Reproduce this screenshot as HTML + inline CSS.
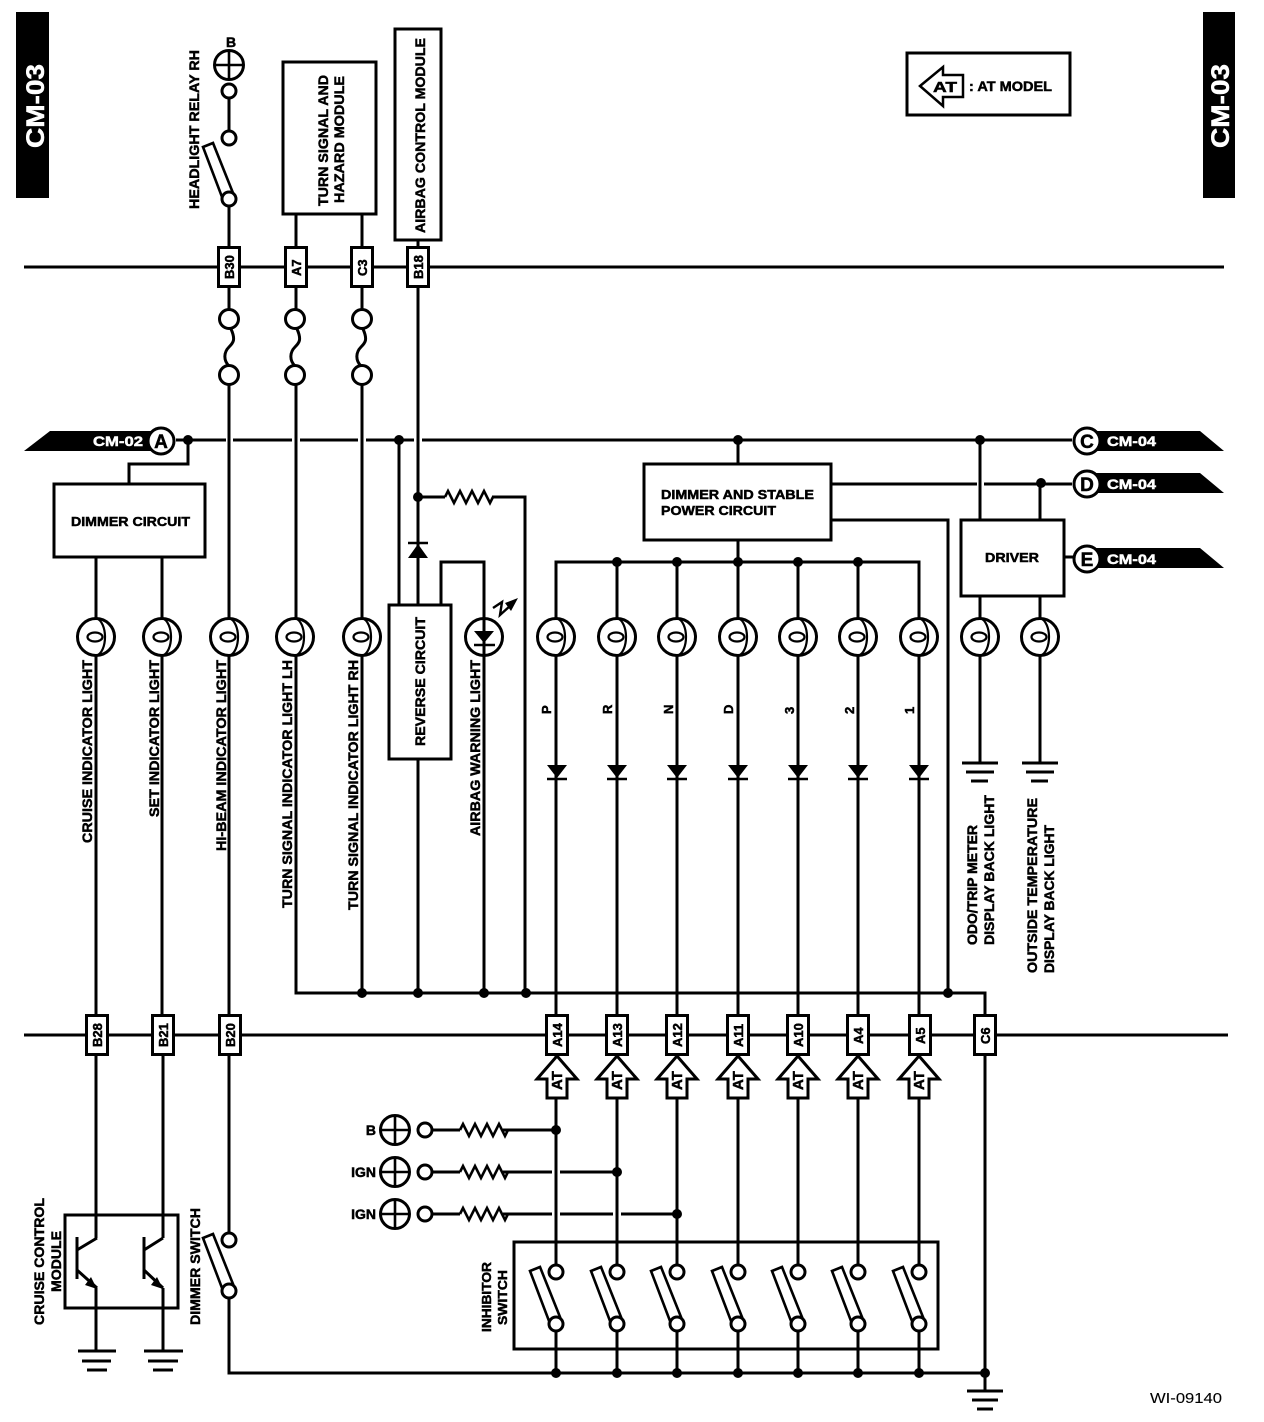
<!DOCTYPE html>
<html><head><meta charset="utf-8"><style>
html,body{margin:0;padding:0;background:#fff}
svg{display:block}
text{font-family:"Liberation Sans",sans-serif;font-weight:bold;fill:#000;stroke:#000;stroke-width:.5}
.w{fill:#fff;stroke:#fff}
.l{fill:none;stroke:#000;stroke-width:3}
</style></head><body>
<svg xmlns="http://www.w3.org/2000/svg" width="1264" height="1422" viewBox="0 0 1264 1422">
<defs>
<g id="lamp"><circle r="18.5" fill="#fff" stroke="#000" stroke-width="3"/><path d="M0-19C12-15 12 15 0 19" fill="none" stroke="#000" stroke-width="2.2"/><ellipse cx="-1" cy="0" rx="7.5" ry="4.5" fill="none" stroke="#000" stroke-width="2.2"/></g>
<g id="plus"><circle r="14.5" fill="#fff" stroke="#000" stroke-width="3"/><path d="M-14 0H14M0-14V14" stroke="#000" stroke-width="2.6"/></g>
<circle id="sm" r="7" fill="#fff" stroke="#000" stroke-width="3"/>
<circle id="fu" r="9.5" fill="#fff" stroke="#000" stroke-width="3"/>
<circle id="dot" r="5" fill="#000"/>
<path id="res" d="M0 0l3-6 6 12 6-12 6 12 6-12 6 12 6-12 6 12 3-6" fill="none" stroke="#000" stroke-width="2.6"/>
<g id="di"><path d="M-10-13H10L0 0Z" fill="#000"/><path d="M-10 1H10" stroke="#000" stroke-width="2.6"/></g>
<g id="lev"><path d="M-26-53-16-57 4-7-7-3Z" fill="#fff" stroke="#000" stroke-width="2.6"/></g>
<rect id="conn" x="-10.5" y="-19.5" width="21" height="39" fill="#fff" stroke="#000" stroke-width="3"/>
<path id="atar" d="M0-21 20 2H10V21H-10V2H-20Z" fill="#fff" stroke="#000" stroke-width="3"/>
</defs>

<!-- side tabs -->
<rect x="16" y="12" width="33" height="186" fill="#000"/>
<rect x="1203" y="12" width="32" height="186" fill="#000"/>
<text class="w" font-size="25" transform="translate(44,148) rotate(-90)" textLength="84" lengthAdjust="spacingAndGlyphs">CM-03</text>
<text class="w" font-size="25" transform="translate(1229,148) rotate(-90)" textLength="84" lengthAdjust="spacingAndGlyphs">CM-03</text>

<!-- main buses -->
<path class="l" d="M24 267H1224M24 1035H1228"/>
<path class="l" d="M176 440H226M233 440H292M300 440H358M366 440H414M422 440H1072"/>

<!-- wires -->
<path class="l" d="M229 98V131M229 206V248M229 287V309M229 385V618M229 656V1233M229 1298V1373H985"/>
<path class="l" d="M296 214V248M296 287V309M296 385V618M296 656V993H985V1390"/>
<path class="l" d="M362 214V248M362 287V309M362 385V618M362 656V993"/>
<path class="l" d="M418 240V248M418 287V605M418 759V993"/>
<path class="l" d="M418 497H445M492 497H525V993"/>
<path class="l" d="M399 440V605M441 605V562H484V618M484 656V993"/>
<path class="l" d="M129 484V464H188V440"/>
<path class="l" d="M96 557V618M96 656V1238M96 1288V1352M162 557V618M162 656V1016M163 1054V1238M163 1288V1352"/>
<path class="l" d="M738 440V464M738 540V618M556 618V562H919V618M617 562V618M677 562V618M798 562V618M858 562V618"/>
<path class="l" d="M556 656V1265M617 656V1265M677 656V1265M738 656V1265M798 656V1265M858 656V1265M919 656V1265"/>
<path class="l" d="M556 1332V1373M617 1332V1373M677 1332V1373M738 1332V1373M798 1332V1373M858 1332V1373M919 1332V1373"/>
<path class="l" d="M832 484H977M984 484H1072M832 520H948V993M980 440V520M1040 484V520M1064 557H1074"/>
<path class="l" d="M980 596V618M980 656V763M1040 596V618M1040 656V763"/>
<path class="l" d="M431 1130H460M503 1130H556M431 1172H460M503 1172H552M560 1172H617M431 1214H460M503 1214H552M560 1214H613M621 1214H677"/>

<!-- fuses -->
<path class="l" d="M231 329C236 340 233 343 229 347C224 352 223 360 229 366M297 329C302 340 299 343 295 347C290 352 289 360 295 366M363 329C368 340 365 343 361 347C356 352 355 360 361 366"/>
<use href="#fu" x="229" y="319"/><use href="#fu" x="229" y="375"/>
<use href="#fu" x="295" y="319"/><use href="#fu" x="295" y="375"/>
<use href="#fu" x="362" y="319"/><use href="#fu" x="362" y="375"/>

<!-- boxes -->
<g fill="#fff" stroke="#000" stroke-width="3">
<rect x="283" y="62" width="93" height="152"/>
<rect x="395" y="29" width="46" height="211"/>
<rect x="54" y="484" width="151" height="73"/>
<rect x="644" y="464" width="187" height="76"/>
<rect x="961" y="520" width="103" height="76"/>
<rect x="389" y="605" width="62" height="154"/>
<rect x="907" y="53" width="163" height="62"/>
</g>
<rect x="514" y="1242" width="424" height="107" fill="none" stroke="#000" stroke-width="3"/>
<rect x="65" y="1215" width="113" height="93" fill="none" stroke="#000" stroke-width="3"/>

<!-- headlight relay -->
<use href="#plus" x="229" y="65"/>
<use href="#sm" x="229" y="91"/><use href="#sm" x="229" y="138"/>
<use href="#lev" x="229" y="200"/><use href="#sm" x="229" y="199"/>
<text font-size="14" x="231" y="47" text-anchor="middle">B</text>

<!-- dimmer switch -->
<use href="#lev" x="229" y="1291"/>
<use href="#sm" x="229" y="1240"/><use href="#sm" x="229" y="1291"/>

<!-- resistors -->
<use href="#res" x="445" y="497"/>
<use href="#res" x="460" y="1130"/><use href="#res" x="460" y="1172"/><use href="#res" x="460" y="1214"/>

<!-- diodes -->
<path d="M408 558H428L418 544Z" fill="#000"/><path d="M408 543H428" stroke="#000" stroke-width="2.6"/>
<use href="#di" x="557" y="778"/><use href="#di" x="617" y="778"/><use href="#di" x="677" y="778"/><use href="#di" x="738" y="778"/><use href="#di" x="798" y="778"/><use href="#di" x="858" y="778"/><use href="#di" x="919" y="778"/>

<!-- lamps -->
<use href="#lamp" x="96" y="637"/><use href="#lamp" x="162" y="637"/><use href="#lamp" x="229" y="637"/><use href="#lamp" x="295" y="637"/><use href="#lamp" x="362" y="637"/>
<use href="#lamp" x="556" y="637"/><use href="#lamp" x="617" y="637"/><use href="#lamp" x="677" y="637"/><use href="#lamp" x="738" y="637"/><use href="#lamp" x="798" y="637"/><use href="#lamp" x="858" y="637"/><use href="#lamp" x="919" y="637"/><use href="#lamp" x="980" y="637"/><use href="#lamp" x="1040" y="637"/>

<!-- LED -->
<circle cx="484" cy="637" r="18.5" fill="none" stroke="#000" stroke-width="3"/>
<path d="M484 620V656" stroke="#000" stroke-width="3"/>
<path d="M474 631H494L484 643Z" fill="#000"/><path d="M474 645H495" stroke="#000" stroke-width="2.6"/>
<path d="M493 608 502 602 500 615 511 605" fill="none" stroke="#000" stroke-width="2.4"/>
<path d="M518 598 505 603 511 611Z" fill="#000"/>

<!-- grounds -->
<path class="l" d="M962 763H998M966 772H994M971 781H988M1022 763H1058M1026 772H1054M1031 781H1048"/>
<path class="l" d="M78 1351H116M82 1361H111M87 1370H107M144 1351H183M148 1361H178M153 1370H173"/>
<path class="l" d="M967 1391H1003M972 1400H998M977 1409H993"/>

<!-- transistors -->
<path class="l" d="M77 1237V1279M97 1238 77 1250M77 1270 97 1288M144 1237V1279M163 1238 144 1250M144 1270 163 1288"/>
<path d="M97 1289 85 1285 91 1277Z" fill="#000"/><path d="M163 1289 151 1285 157 1277Z" fill="#000"/>

<!-- dots -->
<use href="#dot" x="188" y="440"/><use href="#dot" x="399" y="440"/><use href="#dot" x="738" y="440"/><use href="#dot" x="980" y="440"/>
<use href="#dot" x="1041" y="483"/><use href="#dot" x="418" y="497"/>
<use href="#dot" x="617" y="562"/><use href="#dot" x="677" y="562"/><use href="#dot" x="738" y="562"/><use href="#dot" x="798" y="562"/><use href="#dot" x="858" y="562"/>
<use href="#dot" x="362" y="993"/><use href="#dot" x="418" y="993"/><use href="#dot" x="484" y="993"/><use href="#dot" x="526" y="993"/><use href="#dot" x="948" y="993"/>
<use href="#dot" x="556" y="1130"/><use href="#dot" x="617" y="1172"/><use href="#dot" x="677" y="1214"/>
<use href="#dot" x="556" y="1373"/><use href="#dot" x="617" y="1373"/><use href="#dot" x="677" y="1373"/><use href="#dot" x="738" y="1373"/><use href="#dot" x="798" y="1373"/><use href="#dot" x="858" y="1373"/><use href="#dot" x="919" y="1373"/><use href="#dot" x="985" y="1373"/>

<!-- plus supplies -->
<use href="#plus" x="395" y="1130"/><use href="#plus" x="395" y="1172"/><use href="#plus" x="395" y="1214"/>
<use href="#sm" x="425" y="1130"/><use href="#sm" x="425" y="1172"/><use href="#sm" x="425" y="1214"/>
<text font-size="14" x="376" y="1135" text-anchor="end">B</text>
<text font-size="14" x="376" y="1177" text-anchor="end">IGN</text>
<text font-size="14" x="376" y="1219" text-anchor="end">IGN</text>

<!-- inhibitor switches -->
<use href="#lev" x="556" y="1324"/><use href="#sm" x="556" y="1272"/><use href="#sm" x="556" y="1324"/>
<use href="#lev" x="617" y="1324"/><use href="#sm" x="617" y="1272"/><use href="#sm" x="617" y="1324"/>
<use href="#lev" x="677" y="1324"/><use href="#sm" x="677" y="1272"/><use href="#sm" x="677" y="1324"/>
<use href="#lev" x="738" y="1324"/><use href="#sm" x="738" y="1272"/><use href="#sm" x="738" y="1324"/>
<use href="#lev" x="798" y="1324"/><use href="#sm" x="798" y="1272"/><use href="#sm" x="798" y="1324"/>
<use href="#lev" x="858" y="1324"/><use href="#sm" x="858" y="1272"/><use href="#sm" x="858" y="1324"/>
<use href="#lev" x="919" y="1324"/><use href="#sm" x="919" y="1272"/><use href="#sm" x="919" y="1324"/>

<!-- AT arrows -->
<use href="#atar" x="557" y="1077"/><use href="#atar" x="617" y="1077"/><use href="#atar" x="677" y="1077"/><use href="#atar" x="738" y="1077"/><use href="#atar" x="798" y="1077"/><use href="#atar" x="858" y="1077"/><use href="#atar" x="919" y="1077"/>
<text font-size="15" transform="translate(562,1090) rotate(-90)">AT</text>
<text font-size="15" transform="translate(622,1090) rotate(-90)">AT</text>
<text font-size="15" transform="translate(682,1090) rotate(-90)">AT</text>
<text font-size="15" transform="translate(743,1090) rotate(-90)">AT</text>
<text font-size="15" transform="translate(803,1090) rotate(-90)">AT</text>
<text font-size="15" transform="translate(863,1090) rotate(-90)">AT</text>
<text font-size="15" transform="translate(924,1090) rotate(-90)">AT</text>

<!-- connectors top -->
<use href="#conn" x="229" y="267"/><use href="#conn" x="296" y="267"/><use href="#conn" x="362" y="267"/><use href="#conn" x="418" y="267"/>
<text font-size="13" transform="translate(234,279) rotate(-90)">B30</text>
<text font-size="13" transform="translate(301,276) rotate(-90)">A7</text>
<text font-size="13" transform="translate(367,276) rotate(-90)">C3</text>
<text font-size="13" transform="translate(423,279) rotate(-90)">B18</text>

<!-- connectors bottom -->
<use href="#conn" x="97" y="1035"/><use href="#conn" x="163" y="1035"/><use href="#conn" x="230" y="1035"/><use href="#conn" x="557" y="1035"/><use href="#conn" x="617" y="1035"/><use href="#conn" x="677" y="1035"/><use href="#conn" x="738" y="1035"/><use href="#conn" x="798" y="1035"/><use href="#conn" x="858" y="1035"/><use href="#conn" x="920" y="1035"/><use href="#conn" x="985" y="1035"/>
<text font-size="13" transform="translate(102,1047) rotate(-90)">B28</text>
<text font-size="13" transform="translate(168,1047) rotate(-90)">B21</text>
<text font-size="13" transform="translate(235,1047) rotate(-90)">B20</text>
<text font-size="13" transform="translate(562,1047) rotate(-90)">A14</text>
<text font-size="13" transform="translate(622,1047) rotate(-90)">A13</text>
<text font-size="13" transform="translate(682,1047) rotate(-90)">A12</text>
<text font-size="13" transform="translate(743,1047) rotate(-90)">A11</text>
<text font-size="13" transform="translate(803,1047) rotate(-90)">A10</text>
<text font-size="13" transform="translate(863,1044) rotate(-90)">A4</text>
<text font-size="13" transform="translate(925,1044) rotate(-90)">A5</text>
<text font-size="13" transform="translate(990,1044) rotate(-90)">C6</text>

<!-- off-page tags -->
<path d="M24 451 50 431H160V451Z" fill="#000"/>
<path d="M1087 431H1200L1224 451H1087Z" fill="#000"/>
<path d="M1087 473H1200L1224 493H1087Z" fill="#000"/>
<path d="M1087 548H1200L1224 568H1087Z" fill="#000"/>
<text class="w" font-size="14" x="93" y="446" textLength="50" lengthAdjust="spacingAndGlyphs">CM-02</text>
<text class="w" font-size="14" x="1107" y="446" textLength="49" lengthAdjust="spacingAndGlyphs">CM-04</text>
<text class="w" font-size="14" x="1107" y="489" textLength="49" lengthAdjust="spacingAndGlyphs">CM-04</text>
<text class="w" font-size="14" x="1107" y="564" textLength="49" lengthAdjust="spacingAndGlyphs">CM-04</text>
<g fill="#fff" stroke="#000" stroke-width="3">
<circle cx="161" cy="441" r="13"/><circle cx="1087" cy="441" r="13"/><circle cx="1087" cy="484" r="13"/><circle cx="1087" cy="559" r="13"/>
</g>
<text font-size="19" x="161" y="448" text-anchor="middle">A</text>
<text font-size="19" x="1087" y="448" text-anchor="middle">C</text>
<text font-size="19" x="1087" y="491" text-anchor="middle">D</text>
<text font-size="19" x="1087" y="566" text-anchor="middle">E</text>

<!-- legend -->
<path d="M920 86 943 67V75H963V97H943V106Z" fill="none" stroke="#000" stroke-width="2.5"/>
<text font-size="15" x="933" y="92" textLength="24" lengthAdjust="spacingAndGlyphs">AT</text>
<text font-size="14" x="969" y="91" textLength="83" lengthAdjust="spacingAndGlyphs">: AT MODEL</text>

<!-- box labels -->
<text font-size="13" x="71" y="526" textLength="119" lengthAdjust="spacingAndGlyphs">DIMMER CIRCUIT</text>
<text font-size="13" x="661" y="499" textLength="153" lengthAdjust="spacingAndGlyphs">DIMMER AND STABLE</text>
<text font-size="13" x="661" y="515" textLength="115" lengthAdjust="spacingAndGlyphs">POWER CIRCUIT</text>
<text font-size="13" x="985" y="562" textLength="54" lengthAdjust="spacingAndGlyphs">DRIVER</text>
<text font-size="14" transform="translate(328,206) rotate(-90)" textLength="131" lengthAdjust="spacingAndGlyphs">TURN SIGNAL AND</text>
<text font-size="14" transform="translate(344,203) rotate(-90)" textLength="127" lengthAdjust="spacingAndGlyphs">HAZARD MODULE</text>
<text font-size="14" transform="translate(425,233) rotate(-90)" textLength="195" lengthAdjust="spacingAndGlyphs">AIRBAG CONTROL MODULE</text>
<text font-size="14" transform="translate(425,746) rotate(-90)" textLength="129" lengthAdjust="spacingAndGlyphs">REVERSE CIRCUIT</text>
<text font-size="14" transform="translate(199,209) rotate(-90)" textLength="159" lengthAdjust="spacingAndGlyphs">HEADLIGHT RELAY RH</text>

<!-- lamp labels -->
<text font-size="14" transform="translate(92,843) rotate(-90)" textLength="183" lengthAdjust="spacingAndGlyphs">CRUISE INDICATOR LIGHT</text>
<text font-size="14" transform="translate(159,817) rotate(-90)" textLength="157" lengthAdjust="spacingAndGlyphs">SET INDICATOR LIGHT</text>
<text font-size="14" transform="translate(226,851) rotate(-90)" textLength="191" lengthAdjust="spacingAndGlyphs">HI-BEAM INDICATOR LIGHT</text>
<text font-size="14" transform="translate(292,908) rotate(-90)" textLength="248" lengthAdjust="spacingAndGlyphs">TURN SIGNAL INDICATOR LIGHT LH</text>
<text font-size="14" transform="translate(358,910) rotate(-90)" textLength="250" lengthAdjust="spacingAndGlyphs">TURN SIGNAL INDICATOR LIGHT RH</text>
<text font-size="14" transform="translate(480,836) rotate(-90)" textLength="176" lengthAdjust="spacingAndGlyphs">AIRBAG WARNING LIGHT</text>
<text font-size="13" transform="translate(551,714) rotate(-90)">P</text>
<text font-size="13" transform="translate(612,714) rotate(-90)">R</text>
<text font-size="13" transform="translate(673,714) rotate(-90)">N</text>
<text font-size="13" transform="translate(733,714) rotate(-90)">D</text>
<text font-size="13" transform="translate(794,714) rotate(-90)">3</text>
<text font-size="13" transform="translate(854,714) rotate(-90)">2</text>
<text font-size="13" transform="translate(914,714) rotate(-90)">1</text>
<text font-size="14" transform="translate(977,945) rotate(-90)" textLength="120" lengthAdjust="spacingAndGlyphs">ODO/TRIP METER</text>
<text font-size="14" transform="translate(994,945) rotate(-90)" textLength="150" lengthAdjust="spacingAndGlyphs">DISPLAY BACK LIGHT</text>
<text font-size="14" transform="translate(1037,973) rotate(-90)" textLength="175" lengthAdjust="spacingAndGlyphs">OUTSIDE TEMPERATURE</text>
<text font-size="14" transform="translate(1054,973) rotate(-90)" textLength="148" lengthAdjust="spacingAndGlyphs">DISPLAY BACK LIGHT</text>
<text font-size="14" transform="translate(44,1325) rotate(-90)" textLength="127" lengthAdjust="spacingAndGlyphs">CRUISE CONTROL</text>
<text font-size="14" transform="translate(61,1292) rotate(-90)" textLength="61" lengthAdjust="spacingAndGlyphs">MODULE</text>
<text font-size="14" transform="translate(200,1325) rotate(-90)" textLength="117" lengthAdjust="spacingAndGlyphs">DIMMER SWITCH</text>
<text font-size="13" transform="translate(491,1332) rotate(-90)" textLength="70" lengthAdjust="spacingAndGlyphs">INHIBITOR</text>
<text font-size="13" transform="translate(507,1325) rotate(-90)" textLength="55" lengthAdjust="spacingAndGlyphs">SWITCH</text>

<text font-size="15" x="1150" y="1403" textLength="72" lengthAdjust="spacingAndGlyphs" style="font-weight:normal;stroke-width:.1">WI-09140</text>
</svg>
</body></html>
